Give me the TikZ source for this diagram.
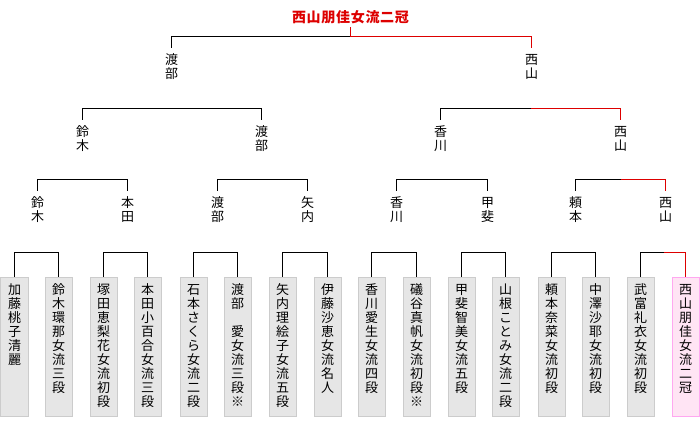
\documentclass[tikz,border=0pt]{standalone}
\usepackage{fontspec}
\newfontfamily\jp{Noto Sans CJK JP}
\definecolor{winred}{RGB}{221,0,0}
\definecolor{boxfill}{HTML}{E6E6E6}
\definecolor{boxline}{HTML}{CCCCCC}
\definecolor{pinkfill}{HTML}{FFE4F4}
\definecolor{pinkline}{HTML}{FFA8F0}
\makeatletter
\newcommand\vt[1]{\vbox{\offinterlineskip\vt@loop#1\relax}}
\def\vt@loop#1{\ifx#1\relax\else\hbox to 13bp{\hss\vrule height 11bp depth 3bp width 0pt\smash{#1}\hss}\expandafter\vt@loop\fi}
\makeatother
\newcommand\leaftext[1]{\vbox to 139bp{\vskip 6bp\vt{#1}\vfill}}
\begin{document}
\begin{tikzpicture}[x=1bp,y=-1bp,
  every node/.style={font=\jp\fontsize{13bp}{14bp}\selectfont},
  conn/.style={line width=1bp,draw=black},
  winconn/.style={line width=1bp,draw=winred},
  lab/.style={anchor=north,inner sep=0pt,outer ysep=5bp},
  leafbox/.style={draw=boxline,fill=boxfill,line width=1bp,anchor=north,inner sep=0pt,minimum width=27bp,minimum height=139bp},
  champbox/.style={leafbox,draw=pinkline,fill=pinkfill},
  title/.style={anchor=south,inner sep=3bp,text=winred,font=\jp\bfseries\fontsize{14bp}{16bp}\selectfont}]
\useasboundingbox (0,0) rectangle (700,420);
\fill[white] (0,0) rectangle (700,420);

% champion
\node[title] (champ) at (350.5,27) {\addfontfeature{LetterSpace=5}西山朋佳女流二冠};

% level 1
\node[lab] (wat1) at (171.5,48) {\vt{渡部}};
\node[lab] (nis1) at (531.5,48) {\vt{西山}};
% level 2
\node[lab] (suz2) at (82.5,120) {\vt{鈴木}};
\node[lab] (wat2) at (261.5,120) {\vt{渡部}};
\node[lab] (kag2) at (440.5,120) {\vt{香川}};
\node[lab] (nis2) at (620.5,120) {\vt{西山}};
% level 3
\node[lab] (suz3) at (37.5,191) {\vt{鈴木}};
\node[lab] (hon3) at (127.5,191) {\vt{本田}};
\node[lab] (wat3) at (217.5,191) {\vt{渡部}};
\node[lab] (yan3) at (307.5,191) {\vt{矢内}};
\node[lab] (kag3) at (396.5,191) {\vt{香川}};
\node[lab] (kai3) at (487.5,191) {\vt{甲斐}};
\node[lab] (yor3) at (575.5,191) {\vt{頼本}};
\node[lab] (nis3) at (665.5,191) {\vt{西山}};

% leaves
\node[leafbox] (p1) at (14.5,276.5) {\leaftext{加藤桃子清麗}};
\node[leafbox] (p2) at (58.5,276.5) {\leaftext{鈴木環那女流三段}};
\node[leafbox] (p3) at (103.5,276.5) {\leaftext{塚田恵梨花女流初段}};
\node[leafbox] (p4) at (147.5,276.5) {\leaftext{本田小百合女流三段}};
\node[leafbox] (p5) at (193.5,276.5) {\leaftext{石本さくら女流二段}};
\node[leafbox] (p6) at (237.5,276.5) {\leaftext{渡部　愛女流三段※}};
\node[leafbox] (p7) at (282.5,276.5) {\leaftext{矢内理絵子女流五段}};
\node[leafbox] (p8) at (327.5,276.5) {\leaftext{伊藤沙恵女流名人}};
\node[leafbox] (p9) at (371.5,276.5) {\leaftext{香川愛生女流四段}};
\node[leafbox] (p10) at (416.5,276.5) {\leaftext{礒谷真帆女流初段※}};
\node[leafbox] (p11) at (461.5,276.5) {\leaftext{甲斐智美女流五段}};
\node[leafbox] (p12) at (505.5,276.5) {\leaftext{山根ことみ女流二段}};
\node[leafbox] (p13) at (551.5,276.5) {\leaftext{頼本奈菜女流初段}};
\node[leafbox] (p14) at (595.5,276.5) {\leaftext{中澤沙耶女流初段}};
\node[leafbox] (p15) at (640.5,276.5) {\leaftext{武富礼衣女流初段}};
\node[champbox] (p16) at (685.5,276.5) {\leaftext{西山朋佳女流二冠}};

% junctions
\coordinate (j0) at (350.5,36.5);
\coordinate (j1a) at (171.5,108.5);
\coordinate (j1b) at (530.5,108.5);
\coordinate (j2a) at (82.5,179.5);
\coordinate (j2b) at (261.5,179.5);
\coordinate (j2c) at (440.5,179.5);
\coordinate (j2d) at (620.5,179.5);
\coordinate (j3a) at (37.5,252.5);
\coordinate (j3b) at (127.5,252.5);
\coordinate (j3c) at (217.5,252.5);
\coordinate (j3d) at (307.5,252.5);
\coordinate (j3e) at (396.5,252.5);
\coordinate (j3f) at (487.5,252.5);
\coordinate (j3g) at (575.5,252.5);
\coordinate (j3h) at (663.5,252.5);

% black connectors
\draw[conn] (j0) -| (wat1.north);
\draw[conn] (j1a) -| (suz2.north);
\draw[conn] (j1a) -| (wat2.north);
\draw[conn] (j1b) -| (kag2.north);
\draw[conn] (j2a) -| (suz3.north);
\draw[conn] (j2a) -| (hon3.north);
\draw[conn] (j2b) -| (wat3.north);
\draw[conn] (j2b) -| (yan3.north);
\draw[conn] (j2c) -| (kag3.north);
\draw[conn] (j2c) -| (kai3.north);
\draw[conn] (j2d) -| (yor3.north);
\draw[conn] (j3a) -| (p1.north);
\draw[conn] (j3a) -| (p2.north);
\draw[conn] (j3b) -| (p3.north);
\draw[conn] (j3b) -| (p4.north);
\draw[conn] (j3c) -| (p5.north);
\draw[conn] (j3c) -| (p6.north);
\draw[conn] (j3d) -| (p7.north);
\draw[conn] (j3d) -| (p8.north);
\draw[conn] (j3e) -| (p9.north);
\draw[conn] (j3e) -| (p10.north);
\draw[conn] (j3f) -| (p11.north);
\draw[conn] (j3f) -| (p12.north);
\draw[conn] (j3g) -| (p13.north);
\draw[conn] (j3g) -| (p14.north);
\draw[conn] (j3h) -| (p15.north);

% winner's path in red
\draw[winconn] (champ.south) -- (j0);
\draw[winconn] (j0) -- (j0 -| nis1.north) -- (nis1.north);
\draw[winconn] (j1b) -- (j1b -| nis2.north) -- (nis2.north);
\draw[winconn] (j2d) -- (j2d -| nis3.north) -- (nis3.north);
\draw[winconn] (j3h) -- (j3h -| p16.north) -- (p16.north);
\end{tikzpicture}
\end{document}
